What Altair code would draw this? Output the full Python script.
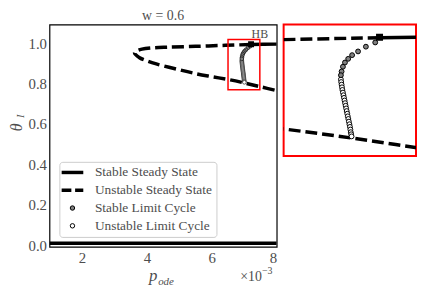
import altair as alt
import pandas as pd

FONT = "Liberation Serif"
TXT = "#4d4d4d"

# ---- data (x in units of 1e-3) ----
stable_low_x = [1.0, 8.0]
stable_low_y = [0.010, 0.010]
stable_up_x = [7.21, 7.6, 8.0]
stable_up_y = [0.993, 0.994, 0.995]

unstable_x = [7.21, 6.42, 5.5, 4.64, 4.13, 3.85, 3.7, 3.62, 3.7, 3.78, 4.0, 4.29, 4.9, 5.5, 6.0, 6.5, 7.0, 7.5, 8.0]
unstable_y = [0.993, 0.989, 0.984, 0.980, 0.976, 0.970, 0.962, 0.951, 0.936, 0.927, 0.912, 0.897, 0.872, 0.849, 0.834, 0.820, 0.803, 0.784, 0.765]

lc_stable_x = [7.178, 7.109, 7.051, 7.007, 6.978, 6.954, 6.939, 6.929, 6.924]
lc_stable_y = [0.984, 0.976, 0.967, 0.960, 0.953, 0.946, 0.938, 0.929, 0.922]

lc_unstable_x = [6.924, 6.926, 6.929, 6.932, 6.935, 6.939, 6.943, 6.947, 6.951, 6.955, 6.959, 6.963,
                 6.967, 6.971, 6.975, 6.979, 6.983, 6.987, 6.991, 6.994, 6.997, 7.000, 7.003]
lc_unstable_y = [0.914, 0.909, 0.904, 0.899, 0.894, 0.889, 0.884, 0.879, 0.874, 0.869, 0.864, 0.859,
                 0.854, 0.849, 0.844, 0.839, 0.834, 0.829, 0.824, 0.819, 0.814, 0.810, 0.806]

hb_x = [7.21]
hb_y = [0.994]
hb_label = ["HB"]
hb_label_x = [7.48]
hb_label_y = [1.047]

zoom_x = [6.5, 7.48]
zoom_y = [0.769, 1.018]

legend_types = ["Stable Steady State", "Unstable Steady State", "Stable Limit Cycle", "Unstable Limit Cycle"]

x_ticks = [2, 4, 6, 8]
y_ticks = [0.0, 0.2, 0.4, 0.6, 0.8, 1.0]

# ---- tables ----
df_low = pd.DataFrame({"x": stable_low_x, "y": stable_low_y})
df_up = pd.DataFrame({"x": stable_up_x, "y": stable_up_y})
df_uns = pd.DataFrame({"x": unstable_x, "y": unstable_y, "o": list(range(len(unstable_x)))})
df_lcs = pd.DataFrame({"x": lc_stable_x, "y": lc_stable_y})
df_lcu = pd.DataFrame({"x": lc_unstable_x, "y": lc_unstable_y})
df_hb = pd.DataFrame({"x": hb_x, "y": hb_y})
df_hbl = pd.DataFrame({"x": hb_label_x, "y": hb_label_y, "t": hb_label})
df_zoom = pd.DataFrame({"x": [zoom_x[0]], "x2": [zoom_x[1]], "y": [zoom_y[0]], "y2": [zoom_y[1]]})
df_leg = pd.DataFrame({"type": legend_types})


def build(xdom, ydom, main=True):
    xs = alt.Scale(domain=xdom, nice=False, zero=False)
    ys = alt.Scale(domain=ydom, nice=False, zero=False)
    if main:
        xax = alt.Axis(values=x_ticks, format="d", grid=False, ticks=False, domain=False,
                       labelFont=FONT, labelFontSize=15, labelColor=TXT, labelPadding=4, title=None)
        yax = alt.Axis(values=y_ticks, format=".1f", grid=False, ticks=False, domain=False,
                       labelFont=FONT, labelFontSize=15, labelColor=TXT, labelPadding=3, title=None)
    else:
        xax = None
        yax = None
    X = lambda: alt.X("x:Q", scale=xs, axis=xax)
    Y = lambda: alt.Y("y:Q", scale=ys, axis=yax)
    lw = 3.5
    msize = 14 if main else 24
    mstroke = 0.6 if main else 1.0

    layers = []
    layers.append(alt.Chart(df_uns).mark_line(color="black", strokeWidth=lw, strokeDash=[12, 5],
                                              interpolate="catmull-rom", clip=True)
                  .encode(x=X(), y=Y(), order="o:Q"))
    layers.append(alt.Chart(df_low).mark_line(color="black", strokeWidth=lw, clip=True).encode(x=X(), y=Y()))
    layers.append(alt.Chart(df_up).mark_line(color="black", strokeWidth=lw, clip=True).encode(x=X(), y=Y()))
    layers.append(alt.Chart(df_lcu).mark_point(shape="circle", filled=False, fill="white", fillOpacity=1,
                                               stroke="black", strokeWidth=mstroke, size=msize, opacity=1, clip=True)
                  .encode(x=X(), y=Y()))
    layers.append(alt.Chart(df_lcs).mark_point(shape="circle", filled=False, fill="#808080", fillOpacity=1,
                                               stroke="black", strokeWidth=mstroke, size=msize, opacity=1, clip=True)
                  .encode(x=X(), y=Y()))
    layers.append(alt.Chart(df_hb).mark_point(shape="square", filled=True, color="black",
                                              size=36 if main else 50, opacity=1, clip=True)
                  .encode(x=X(), y=Y()))
    if main:
        layers.append(alt.Chart(df_zoom).mark_rect(fill=None, fillOpacity=0, stroke="red", strokeWidth=1.5)
                      .encode(x=X(), x2="x2:Q", y=Y(), y2="y2:Q"))
        layers.append(alt.Chart(df_hbl).mark_text(font=FONT, fontSize=12, color=TXT, baseline="middle")
                      .encode(x=X(), y=Y(), text="t:N"))
        # legend carrier
        layers.append(alt.Chart(df_leg).mark_point(opacity=0, size=20).encode(
            shape=alt.Shape("type:N", sort=legend_types,
                            scale=alt.Scale(domain=legend_types,
                                            range=["M-4.9,0H4.9", "M-4.9,0H-0.5M1.2,0H4.9", "circle", "circle"])),
            fill=alt.Fill("type:N", sort=legend_types,
                          scale=alt.Scale(domain=legend_types, range=["black", "black", "#808080", "white"])),
            stroke=alt.Stroke("type:N", sort=legend_types,
                              scale=alt.Scale(domain=legend_types, range=["black", "black", "black", "black"])),
            strokeWidth=alt.StrokeWidth("type:N", sort=legend_types,
                                        scale=alt.Scale(type="ordinal", domain=legend_types, range=[3.5, 3.5, 1, 1])),
        ))
        # axis titles and offset text
        one = alt.Data(values=[{}])
        def txt(t, x, y, size, italic=False, align="center", baseline="alphabetic", angle=0):
            kw = dict(font=FONT, fontSize=size, color=TXT, align=align, baseline=baseline)
            if italic:
                kw["fontStyle"] = "italic"
            if angle:
                kw["angle"] = angle
            return alt.Chart(one).mark_text(**kw).encode(x=alt.value(x), y=alt.value(y), text=alt.value(t))
        layers.append(txt("p", 105, 260, 17, italic=True))
        layers.append(txt("ode", 110, 264, 11, italic=True, align="left"))
        layers.append(txt("θ", -33, 104, 16, italic=True, baseline="middle", angle=270))
        layers.append(txt("I", -28.5, 93, 10.5, italic=True, baseline="middle", angle=270))
        layers.append(txt("×10", 215, 260, 14, align="right"))
        layers.append(txt("−3", 215, 253, 10, align="left"))
    return alt.layer(*layers)


main = build([1.0, 8.0], [-0.008, 1.092], True).properties(
    width=230, height=225,
    title=alt.Title("w = 0.6", font=FONT, fontSize=14, color=TXT, fontWeight="normal", offset=2),
    view=alt.ViewBackground(stroke="black", strokeWidth=1.2),
)
inset = build(zoom_x, zoom_y, False).properties(
    width=134, height=133,
    view=alt.ViewBackground(stroke="red", strokeWidth=2),
)

chart = alt.hconcat(main, inset, spacing=7, bounds="flush").resolve_scale(
    x="independent", y="independent",
    shape="independent", fill="independent", stroke="independent", strokeWidth="independent",
).configure_legend(
    orient="bottom-left", offset=10, title=None,
    labelFont=FONT, labelFontSize=13.5, labelColor=TXT,
    strokeColor="#cccccc", fillColor="white", cornerRadius=3, padding=4,
    rowPadding=3, symbolSize=20, symbolOffset=2.5, labelOffset=16, symbolOpacity=1,
).properties(padding={"left": 0, "top": -2, "right": 0, "bottom": 0})

chart.save("out.html", embed_options={"renderer": "svg", "actions": False})
